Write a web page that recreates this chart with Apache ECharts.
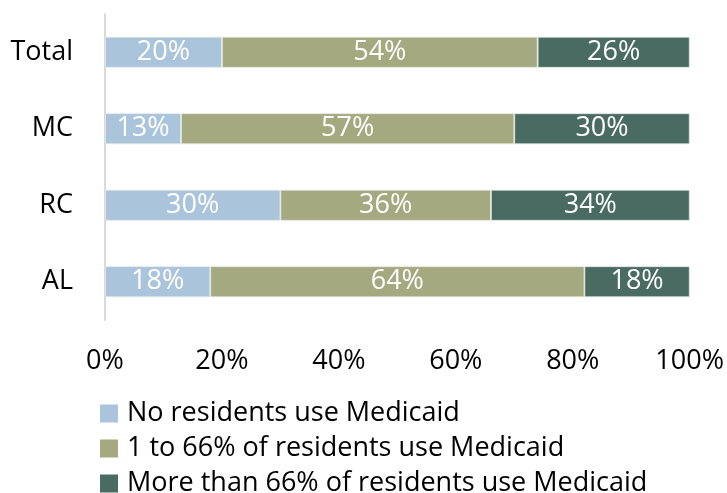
<!DOCTYPE html>
<html>
<head>
<meta charset="utf-8">
<script src="https://cdn.jsdelivr.net/npm/echarts@6/dist/echarts.min.js"></script>
<style>
  html, body { margin: 0; padding: 0; background: #fff; }
  #chart { width: 727px; height: 493px; }
</style>
</head>
<body>
<div id="chart"></div>
<script>
// Facility types, listed top to bottom
const categories = ['Total', 'MC', 'RC', 'AL'];
// Share of facilities in each Medicaid-use group (percent)
const noMedicaid = [20, 13, 30, 18];
const someMedicaid = [54, 57, 36, 64];
const mostMedicaid = [26, 30, 34, 18];
const seriesNames = [
  'No residents use Medicaid',
  '1 to 66% of residents use Medicaid',
  'More than 66% of residents use Medicaid'
];
const colors = ['#A9C4DB', '#A4A97F', '#496B61'];
const FONT = 'Open Sans';
const FS = 27;

const chart = echarts.init(document.getElementById('chart'));

function makeSeries(name, data, color) {
  return {
    name: name,
    type: 'bar',
    stack: 'total',
    data: data,
    barWidth: 31,
    itemStyle: { color: color, borderColor: '#E6EAE6', borderWidth: 0.8 },
    label: {
      show: true,
      position: 'inside',
      formatter: '{c}%',
      color: '#fff',
      fontFamily: FONT,
      fontSize: FS
    }
  };
}

// One legend block per row so each line sits at its own height
const legendTops = [395, 430, 465];
const legends = seriesNames.map((name, i) => ({
  orient: 'vertical',
  left: 95,
  top: legendTops[i],
  itemWidth: 18,
  itemHeight: 18,
  icon: 'rect',
  itemStyle: { borderWidth: 0 },
  textStyle: { fontFamily: FONT, fontSize: FS, color: '#000', padding: [0, 0, 0, 4] },
  data: [name]
}));

chart.setOption({
  animation: false,
  textStyle: { fontFamily: FONT },
  grid: { left: 105, right: 37, top: 14, height: 306, containLabel: false },
  legend: legends,
  xAxis: {
    type: 'value',
    min: 0,
    max: 100,
    interval: 20,
    axisLine: { show: false },
    axisTick: { show: false },
    splitLine: { show: false },
    axisLabel: {
      formatter: '{value}%',
      margin: 28,
      fontFamily: FONT,
      fontSize: FS,
      color: '#000'
    }
  },
  yAxis: {
    type: 'category',
    data: categories,
    inverse: true,
    axisLine: { show: true, lineStyle: { color: '#D9D9D9', width: 2 } },
    axisTick: { show: false },
    axisLabel: { margin: 32, fontFamily: FONT, fontSize: FS, color: '#000' }
  },
  series: [
    makeSeries(seriesNames[0], noMedicaid, colors[0]),
    makeSeries(seriesNames[1], someMedicaid, colors[1]),
    makeSeries(seriesNames[2], mostMedicaid, colors[2])
  ]
});
</script>
</body>
</html>
